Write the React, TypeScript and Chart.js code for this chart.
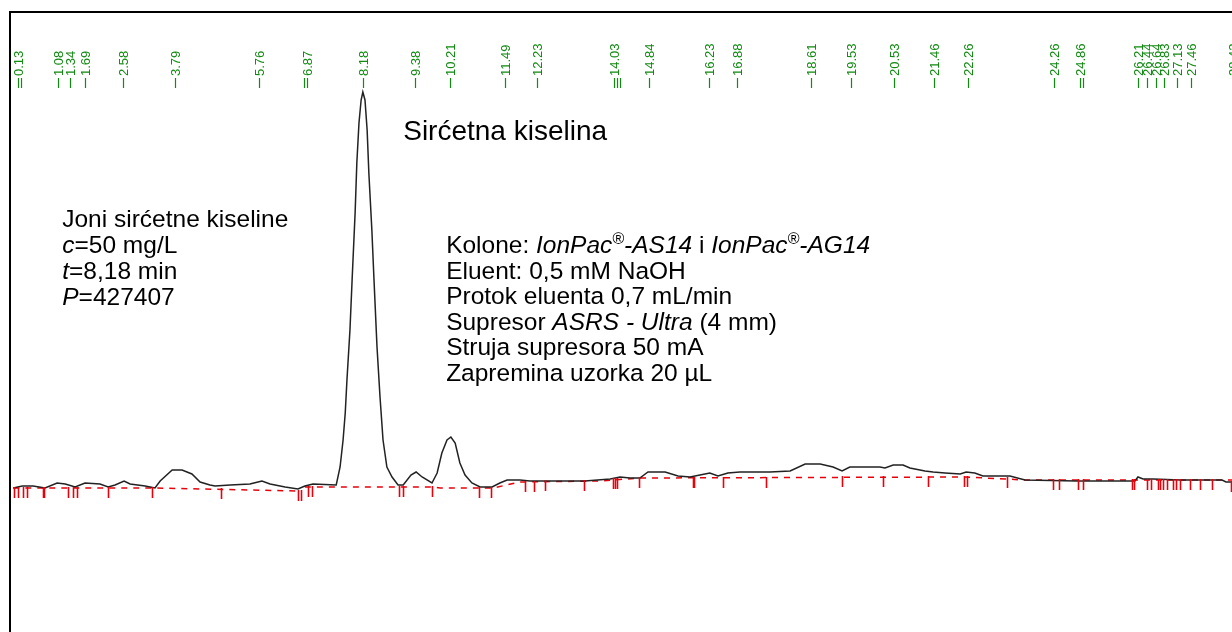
import React, { useEffect, useRef } from "react";
import { Chart, registerables } from "chart.js";

Chart.register(...registerables);

// ---- Chromatogram trace (time in min, signal in arbitrary units) ----
const traceTimes = [
  0.03, 0.24, 0.49, 0.77, 1.05, 1.24, 1.47, 1.7, 2.05, 2.24, 2.4, 2.61, 2.75, 3.1, 3.33, 3.45,
  3.73, 3.96, 4.19, 4.38, 4.61, 4.73, 5.08, 5.54, 5.82, 6.01, 6.36, 6.66, 6.82, 7.01, 7.55,
  7.64, 7.71, 7.76, 7.8, 7.87, 7.92, 7.99, 8.03, 8.08, 8.13, 8.17, 8.22, 8.27, 8.31, 8.38,
  8.43, 8.5, 8.57, 8.64, 8.73, 8.85, 8.99, 9.11, 9.29, 9.41, 9.55, 9.78, 9.9, 10.01, 10.13,
  10.22, 10.32, 10.43, 10.55, 10.71, 10.9, 11.18, 11.36, 11.53, 11.83, 12.06, 12.41, 13.34,
  13.93, 14.16, 14.39, 14.62, 14.81, 15.21, 15.51, 15.79, 16.02, 16.25, 16.44, 16.67, 16.95,
  17.65, 18.12, 18.47, 18.82, 19.12, 19.33, 19.51, 20.21, 20.33, 20.52, 20.75, 20.91, 21.26,
  21.45, 21.73, 22.08, 22.22, 22.42, 22.61, 23.24, 23.59, 24.8, 26.15, 26.22, 26.34, 26.57,
  27.2, 28.18, 28.27, 28.41,
];
const traceValues = [
  0.2, 0.4, 0.4, 0.2, 0.7, 0.6, 0.3, 0.7, 0.6, 0.3, 0.5, 0.9, 0.6, 0.4, 0.2, 0.9,
  2.0, 2.0, 1.6, 0.8, 0.5, 0.4, 0.5, 0.6, 0.9, 0.6, 0.3, 0.1, 0.4, 0.6, 0.5,
  2.3, 5.0, 7.7, 11.0, 16.0, 21.0, 27.7, 32.7, 36.7, 39.0, 39.8, 39.0, 36.0, 31.7, 26.0,
  21.0, 14.3, 9.3, 5.0, 2.3, 1.3, 0.5, 0.5, 1.5, 1.8, 1.3, 0.7, 1.7, 3.7, 5.0,
  5.3, 4.7, 2.7, 1.5, 0.7, 0.3, 0.3, 0.7, 1.0, 1.0, 0.9, 0.9, 0.9,
  1.1, 1.3, 1.2, 1.2, 1.8, 1.8, 1.4, 1.3, 1.5, 1.7, 1.4, 1.7, 1.8,
  1.8, 1.9, 2.6, 2.6, 2.3, 1.9, 2.3, 2.3, 2.2, 2.5, 2.5, 2.2, 1.9,
  1.8, 1.7, 1.6, 1.8, 1.7, 1.4, 1.4, 1.0, 0.9, 0.9, 1.3, 1.1, 1.1,
  1.0, 1.0, 0.8, 0.8,
];

// ---- Integration baseline (red dashed), null = break ----
const baselineTimes = [0.03, 3.33, 6.66, 6.74, 6.82, 9.78, 9.97, 11.2, 11.83, 13.69, 14.62, 22.19, 23.59, 28.41];
const baselineValues = [0.2, 0.2, -0.1, null, 0.3, 0.3, 0.2, 0.2, 0.8, 0.9, 1.2, 1.3, 1.0, 1.0];

// ---- Integration event marks (red) ----
const eventTimes = [
  0.05, 0.14, 0.26, 0.35, 0.72, 0.74, 1.31, 1.42, 1.52, 2.24, 3.26, 4.87, 6.66, 6.73, 6.89,
  6.99, 9.01, 9.11, 9.78, 10.88, 11.16, 11.95, 12.16, 12.41, 13.32, 14.0, 14.04, 14.09, 14.6,
  15.86, 15.88, 16.56, 17.56, 19.33, 20.28, 21.33, 22.17, 22.24, 23.17, 24.24, 24.38, 24.82,
  24.94, 26.08, 26.13, 26.43, 26.52, 26.69, 26.73, 26.8, 26.9, 27.04, 27.1, 27.2, 27.43,
  27.66, 27.94, 28.39,
];
const eventLevels = [
  0.2, 0.2, 0.2, 0.2, 0.2, 0.2, 0.2, 0.2, 0.2, 0.2, 0.2, 0.1, -0.1, -0.1, 0.3,
  0.3, 0.3, 0.3, 0.3, 0.2, 0.2, 0.8, 0.8, 0.9, 0.9, 1.1, 1.1, 1.1, 1.2,
  1.2, 1.2, 1.2, 1.2, 1.3, 1.3, 1.3, 1.3, 1.3, 1.2, 1.0, 1.0, 1.0,
  1.0, 1.0, 1.0, 1.0, 1.0, 1.0, 1.0, 1.0, 1.0, 1.0, 1.0, 1.0, 1.0,
  1.0, 1.0, 0.8,
];

// ---- Retention time labels (green, top) ----
const peakTimes = [
  0.13, 1.08, 1.34, 1.69, 2.58, 3.79, 5.76, 6.87, 8.18, 9.38, 10.21, 11.49, 12.23, 14.03,
  14.84, 16.23, 16.88, 18.61, 19.53, 20.53, 21.46, 22.26, 24.26, 24.86, 26.21, 26.44, 26.64,
  26.83, 27.13, 27.46, 28.43,
];
const peakLabels = peakTimes.map((t) => t.toFixed(2));
const extraPeakMarks = [0.21, 6.8, 14.09, 14.15, 24.93];

// ---- Annotations ----
const titleText = "Sirćetna kiselina";
const titleAt = [9.11, 35.0];

type Seg = [string, "n" | "i" | "sup"];
const leftLines: Seg[][] = [
  [["Joni sirćetne kiseline", "n"]],
  [["c", "i"], ["=50 mg/L", "n"]],
  [["t", "i"], ["=8,18 min", "n"]],
  [["P", "i"], ["=427407", "n"]],
];
const leftAt = [1.17, 26.3];

const rightLines: Seg[][] = [
  [
    ["Kolone: ", "n"],
    ["IonPac", "i"],
    ["®", "sup"],
    ["-AS14", "i"],
    [" i ", "n"],
    ["IonPac", "i"],
    ["®", "sup"],
    ["-AG14", "i"],
  ],
  [["Eluent: 0,5 mM NaOH", "n"]],
  [["Protok eluenta 0,7 mL/min", "n"]],
  [["Supresor ", "n"], ["ASRS - Ultra", "i"], [" (4 mm)", "n"]],
  [["Struja supresora 50 mA", "n"]],
  [["Zapremina uzorka 20 µL", "n"]],
];
const rightAt = [10.11, 23.7];

const FONT = '"Liberation Sans", Arial, Helvetica, sans-serif';
const GREEN = "#108a10";
const RED = "#e8000b";

function drawRich(ctx: CanvasRenderingContext2D, lines: Seg[][], x0: number, y0: number, lh: number, size: number) {
  ctx.fillStyle = "#000";
  ctx.textAlign = "left";
  ctx.textBaseline = "alphabetic";
  lines.forEach((line, i) => {
    let cx = x0;
    const by = y0 + i * lh;
    line.forEach(([text, st]) => {
      let off = 0;
      if (st === "n") ctx.font = `${size}px ${FONT}`;
      else if (st === "i") ctx.font = `italic ${size}px ${FONT}`;
      else {
        ctx.font = `italic ${Math.round(size * 0.66)}px ${FONT}`;
        off = -size * 0.38;
      }
      ctx.fillText(text, cx, by + off);
      cx += ctx.measureText(text).width;
    });
  });
}

const overlayPlugin = {
  id: "overlay",
  afterDatasetsDraw(chart: any) {
    const { ctx, scales } = chart;
    const xs = scales.x;
    const ys = scales.y;
    ctx.save();

    // frame (top + left visible)
    ctx.strokeStyle = "#000";
    ctx.lineWidth = 2;
    ctx.beginPath();
    ctx.moveTo(10, 700);
    ctx.lineTo(10, 12);
    ctx.lineTo(1300, 12);
    ctx.stroke();

    // red integration marks
    ctx.strokeStyle = RED;
    ctx.lineWidth = 1.6;
    eventTimes.forEach((t, i) => {
      const px = Math.round(xs.getPixelForValue(t)) + 0.5;
      const py = ys.getPixelForValue(eventLevels[i]);
      ctx.beginPath();
      ctx.moveTo(px, py - 1);
      ctx.lineTo(px, py + 10);
      ctx.stroke();
    });

    // green retention time labels
    ctx.strokeStyle = GREEN;
    ctx.fillStyle = GREEN;
    ctx.lineWidth = 1.2;
    const markTop = ys.getPixelForValue(41.2);
    const markBot = ys.getPixelForValue(40.2);
    const textStart = ys.getPixelForValue(41.4);
    [...peakTimes, ...extraPeakMarks].forEach((t) => {
      const px = Math.round(xs.getPixelForValue(t)) + 0.5;
      ctx.beginPath();
      ctx.moveTo(px, markTop);
      ctx.lineTo(px, markBot);
      ctx.stroke();
    });
    ctx.font = `13px ${FONT}`;
    ctx.textAlign = "left";
    ctx.textBaseline = "middle";
    peakTimes.forEach((t, i) => {
      const px = Math.round(xs.getPixelForValue(t)) + 0.5;
      ctx.save();
      ctx.translate(px + 0.5, textStart);
      ctx.rotate(-Math.PI / 2);
      ctx.fillText(peakLabels[i], 0, 0);
      ctx.restore();
    });

    // title
    ctx.fillStyle = "#000";
    ctx.font = `28px ${FONT}`;
    ctx.textBaseline = "alphabetic";
    ctx.fillText(titleText, xs.getPixelForValue(titleAt[0]), ys.getPixelForValue(titleAt[1]));

    drawRich(ctx, leftLines, xs.getPixelForValue(leftAt[0]), ys.getPixelForValue(leftAt[1]), 26, 24.5);
    drawRich(ctx, rightLines, xs.getPixelForValue(rightAt[0]), ys.getPixelForValue(rightAt[1]), 25.6, 24.5);

    ctx.restore();
  },
};

export default function App() {
  const ref = useRef<HTMLCanvasElement | null>(null);
  useEffect(() => {
    if (!ref.current) return;
    const chart = new Chart(ref.current, {
      type: "line",
      data: {
        datasets: [
          {
            label: "signal",
            data: traceTimes.map((t, i) => ({ x: t, y: traceValues[i] })),
            borderColor: "#222222",
            borderWidth: 1.5,
            pointRadius: 0,
            tension: 0,
          },
          {
            label: "baseline",
            data: baselineTimes.map((t, i) => ({ x: t, y: baselineValues[i] })),
            borderColor: RED,
            borderWidth: 1.5,
            borderDash: [6, 6],
            pointRadius: 0,
            spanGaps: false,
            tension: 0,
          },
        ],
      },
      options: {
        animation: false,
        responsive: false,
        devicePixelRatio: 1,
        layout: { padding: { left: 12, top: 12, right: 0, bottom: 0 } },
        scales: {
          x: { type: "linear", min: 0, max: 28.41, display: false },
          y: { type: "linear", min: -14.2, max: 47.8, display: false },
        },
        plugins: { legend: { display: false }, tooltip: { enabled: false } },
        events: [],
      },
      plugins: [overlayPlugin],
    });
    return () => chart.destroy();
  }, []);
  return (
    <div style={{ position: "fixed", left: 0, top: 0, width: 1232, height: 632, background: "#fff" }}>
      <canvas ref={ref} width={1232} height={632} style={{ display: "block" }} />
    </div>
  );
}
